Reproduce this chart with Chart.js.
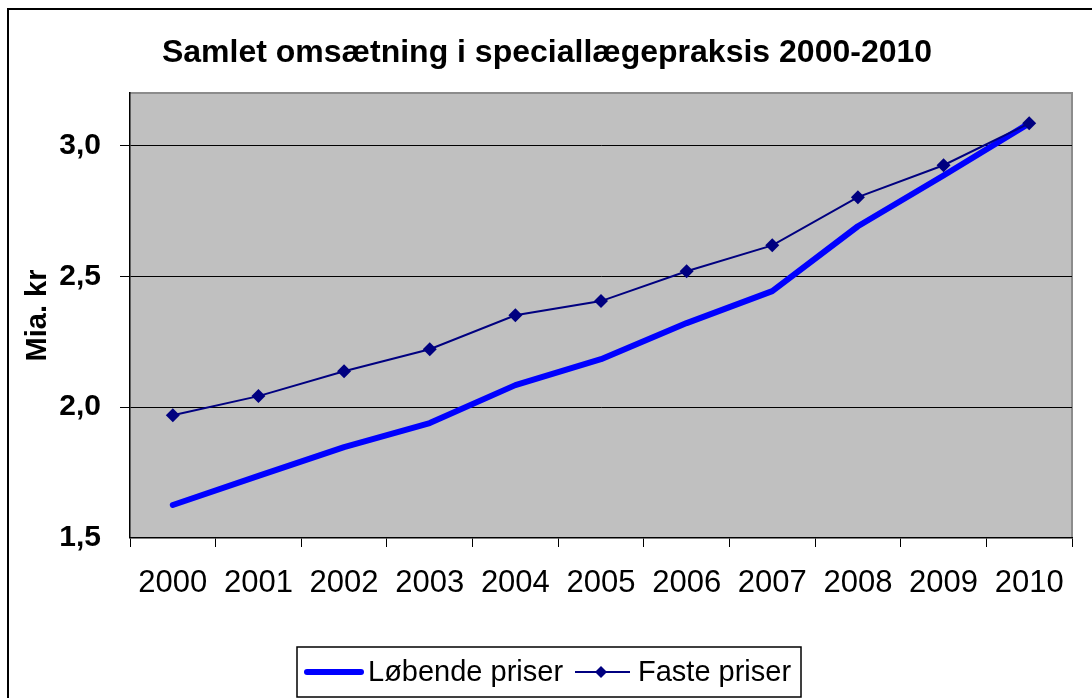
<!DOCTYPE html>
<html>
<head>
<meta charset="utf-8">
<script src="https://cdn.jsdelivr.net/npm/chart.js@4.4.1/dist/chart.umd.min.js"></script>
<style>
  html, body { margin: 0; padding: 0; background: #fff; overflow: hidden; }
  #wrap { position: relative; width: 1092px; height: 698px; }
  #frame { position: absolute; left: 7px; top: 8px; width: 1200px; height: 800px;
           border-top: 2px solid #000; border-left: 2px solid #000; pointer-events: none; }
  canvas { position: absolute; left: 0; top: 0; }
</style>
</head>
<body>
<div id="wrap">
  <canvas id="c" width="1092" height="698"></canvas>
  <div id="frame"></div>
</div>
<script>
const titleText = 'Samlet omsætning i speciallægepraksis 2000-2010';
const yAxisTitle = 'Mia. kr';
const categories = ['2000','2001','2002','2003','2004','2005','2006','2007','2008','2009','2010'];
const lobendePriser = [1.626, 1.737, 1.847, 1.939, 2.084, 2.183, 2.321, 2.443, 2.691, 2.885, 3.084];
const fastePriser = [1.969, 2.042, 2.137, 2.221, 2.351, 2.405, 2.519, 2.618, 2.802, 2.924, 3.084];
const yTicks = [1.5, 2.0, 2.5, 3.0];
const seriesNames = ['Løbende priser', 'Faste priser'];

const FONT = 'Arial, "Liberation Sans", Helvetica, sans-serif';

const plotBg = {
  id: 'plotBg',
  beforeDraw(chart) {
    const {ctx, chartArea: a} = chart;
    ctx.save();
    ctx.fillStyle = '#c0c0c0';
    ctx.fillRect(a.left, a.top, a.right - a.left, a.bottom - a.top);
    ctx.strokeStyle = '#8c8c8c';
    ctx.lineWidth = 2;
    ctx.beginPath();
    ctx.moveTo(a.left, a.top);
    ctx.lineTo(a.right, a.top);
    ctx.lineTo(a.right, a.bottom);
    ctx.stroke();
    ctx.restore();
  },
  afterDraw(chart) {
    const ctx = chart.ctx;
    ctx.save();
    // title
    ctx.fillStyle = '#000';
    ctx.font = 'bold 32px ' + FONT;
    ctx.textAlign = 'center';
    ctx.textBaseline = 'middle';
    ctx.fillText(titleText, 547, 53);
    // legend box
    ctx.strokeStyle = '#000';
    ctx.lineWidth = 1.5;
    ctx.fillStyle = '#fff';
    ctx.fillRect(297, 647, 504, 50);
    ctx.strokeRect(297, 647, 504, 50);
    const ly = 672;
    // series 1
    ctx.strokeStyle = '#0000ff';
    ctx.lineWidth = 6;
    ctx.lineCap = 'round';
    ctx.beginPath(); ctx.moveTo(307, ly); ctx.lineTo(361, ly); ctx.stroke();
    // series 2
    ctx.strokeStyle = '#000080';
    ctx.lineWidth = 2;
    ctx.lineCap = 'butt';
    ctx.beginPath(); ctx.moveTo(575, ly); ctx.lineTo(630, ly); ctx.stroke();
    ctx.fillStyle = '#000080';
    ctx.beginPath();
    ctx.moveTo(601, ly - 6); ctx.lineTo(607, ly); ctx.lineTo(601, ly + 6); ctx.lineTo(595, ly);
    ctx.closePath(); ctx.fill();
    ctx.fillStyle = '#000';
    ctx.font = '29px ' + FONT;
    ctx.textAlign = 'left';
    ctx.textBaseline = 'middle';
    ctx.fillText(seriesNames[0], 368, ly + 1);
    ctx.fillText(seriesNames[1], 638, ly + 1);
    ctx.restore();
  }
};

new Chart(document.getElementById('c'), {
  type: 'line',
  data: {
    labels: categories,
    datasets: [
      {
        label: seriesNames[0],
        data: lobendePriser,
        borderColor: '#0000ff',
        backgroundColor: '#0000ff',
        borderWidth: 6,
        pointRadius: 0,
        borderCapStyle: 'round',
        borderJoinStyle: 'round',
        tension: 0,
        order: 2
      },
      {
        label: seriesNames[1],
        data: fastePriser,
        borderColor: '#000080',
        backgroundColor: '#000080',
        borderWidth: 2,
        pointStyle: 'rectRot',
        pointRadius: 7,
        pointBorderWidth: 0,
        tension: 0,
        order: 1
      }
    ]
  },
  options: {
    responsive: false,
    animation: false,
    events: [],
    layout: { padding: { top: 93, right: 20, left: 0, bottom: 0 } },
    plugins: {
      legend: { display: false },
      title: { display: false },
      tooltip: { enabled: false }
    },
    scales: {
      x: {
        type: 'category',
        offset: true,
        grid: {
          offset: true,
          drawOnChartArea: false,
          drawTicks: true,
          tickLength: 9,
          color: '#000',
          lineWidth: 1
        },
        border: { display: true, color: '#000', width: 1.5 },
        ticks: {
          color: '#000',
          font: { family: FONT, size: 31 },
          padding: 18,
          maxRotation: 0,
          autoSkip: false
        },
        afterFit(s) { s.height = 160; }
      },
      y: {
        min: 1.5,
        max: 3.2,
        afterBuildTicks(s) { s.ticks = yTicks.map(v => ({ value: v })); },
        grid: {
          color: '#000',
          lineWidth: ctx => (ctx.tick && ctx.tick.value === 1.5) ? 0 : 1,
          drawTicks: true,
          tickLength: 10,
          tickColor: '#000'
        },
        border: { display: true, color: '#000', width: 1.5 },
        ticks: {
          color: '#000',
          font: { family: FONT, size: 30, weight: 'bold' },
          padding: 19,
          callback: v => Number(v).toFixed(1).replace('.', ',')
        },
        title: {
          display: true,
          text: yAxisTitle,
          color: '#000',
          font: { family: FONT, size: 29, weight: 'bold' },
          padding: { top: 21, bottom: 0 }
        },
        afterFit(s) { s.width = 130; }
      }
    }
  },
  plugins: [plotBg]
});
</script>
</body>
</html>
